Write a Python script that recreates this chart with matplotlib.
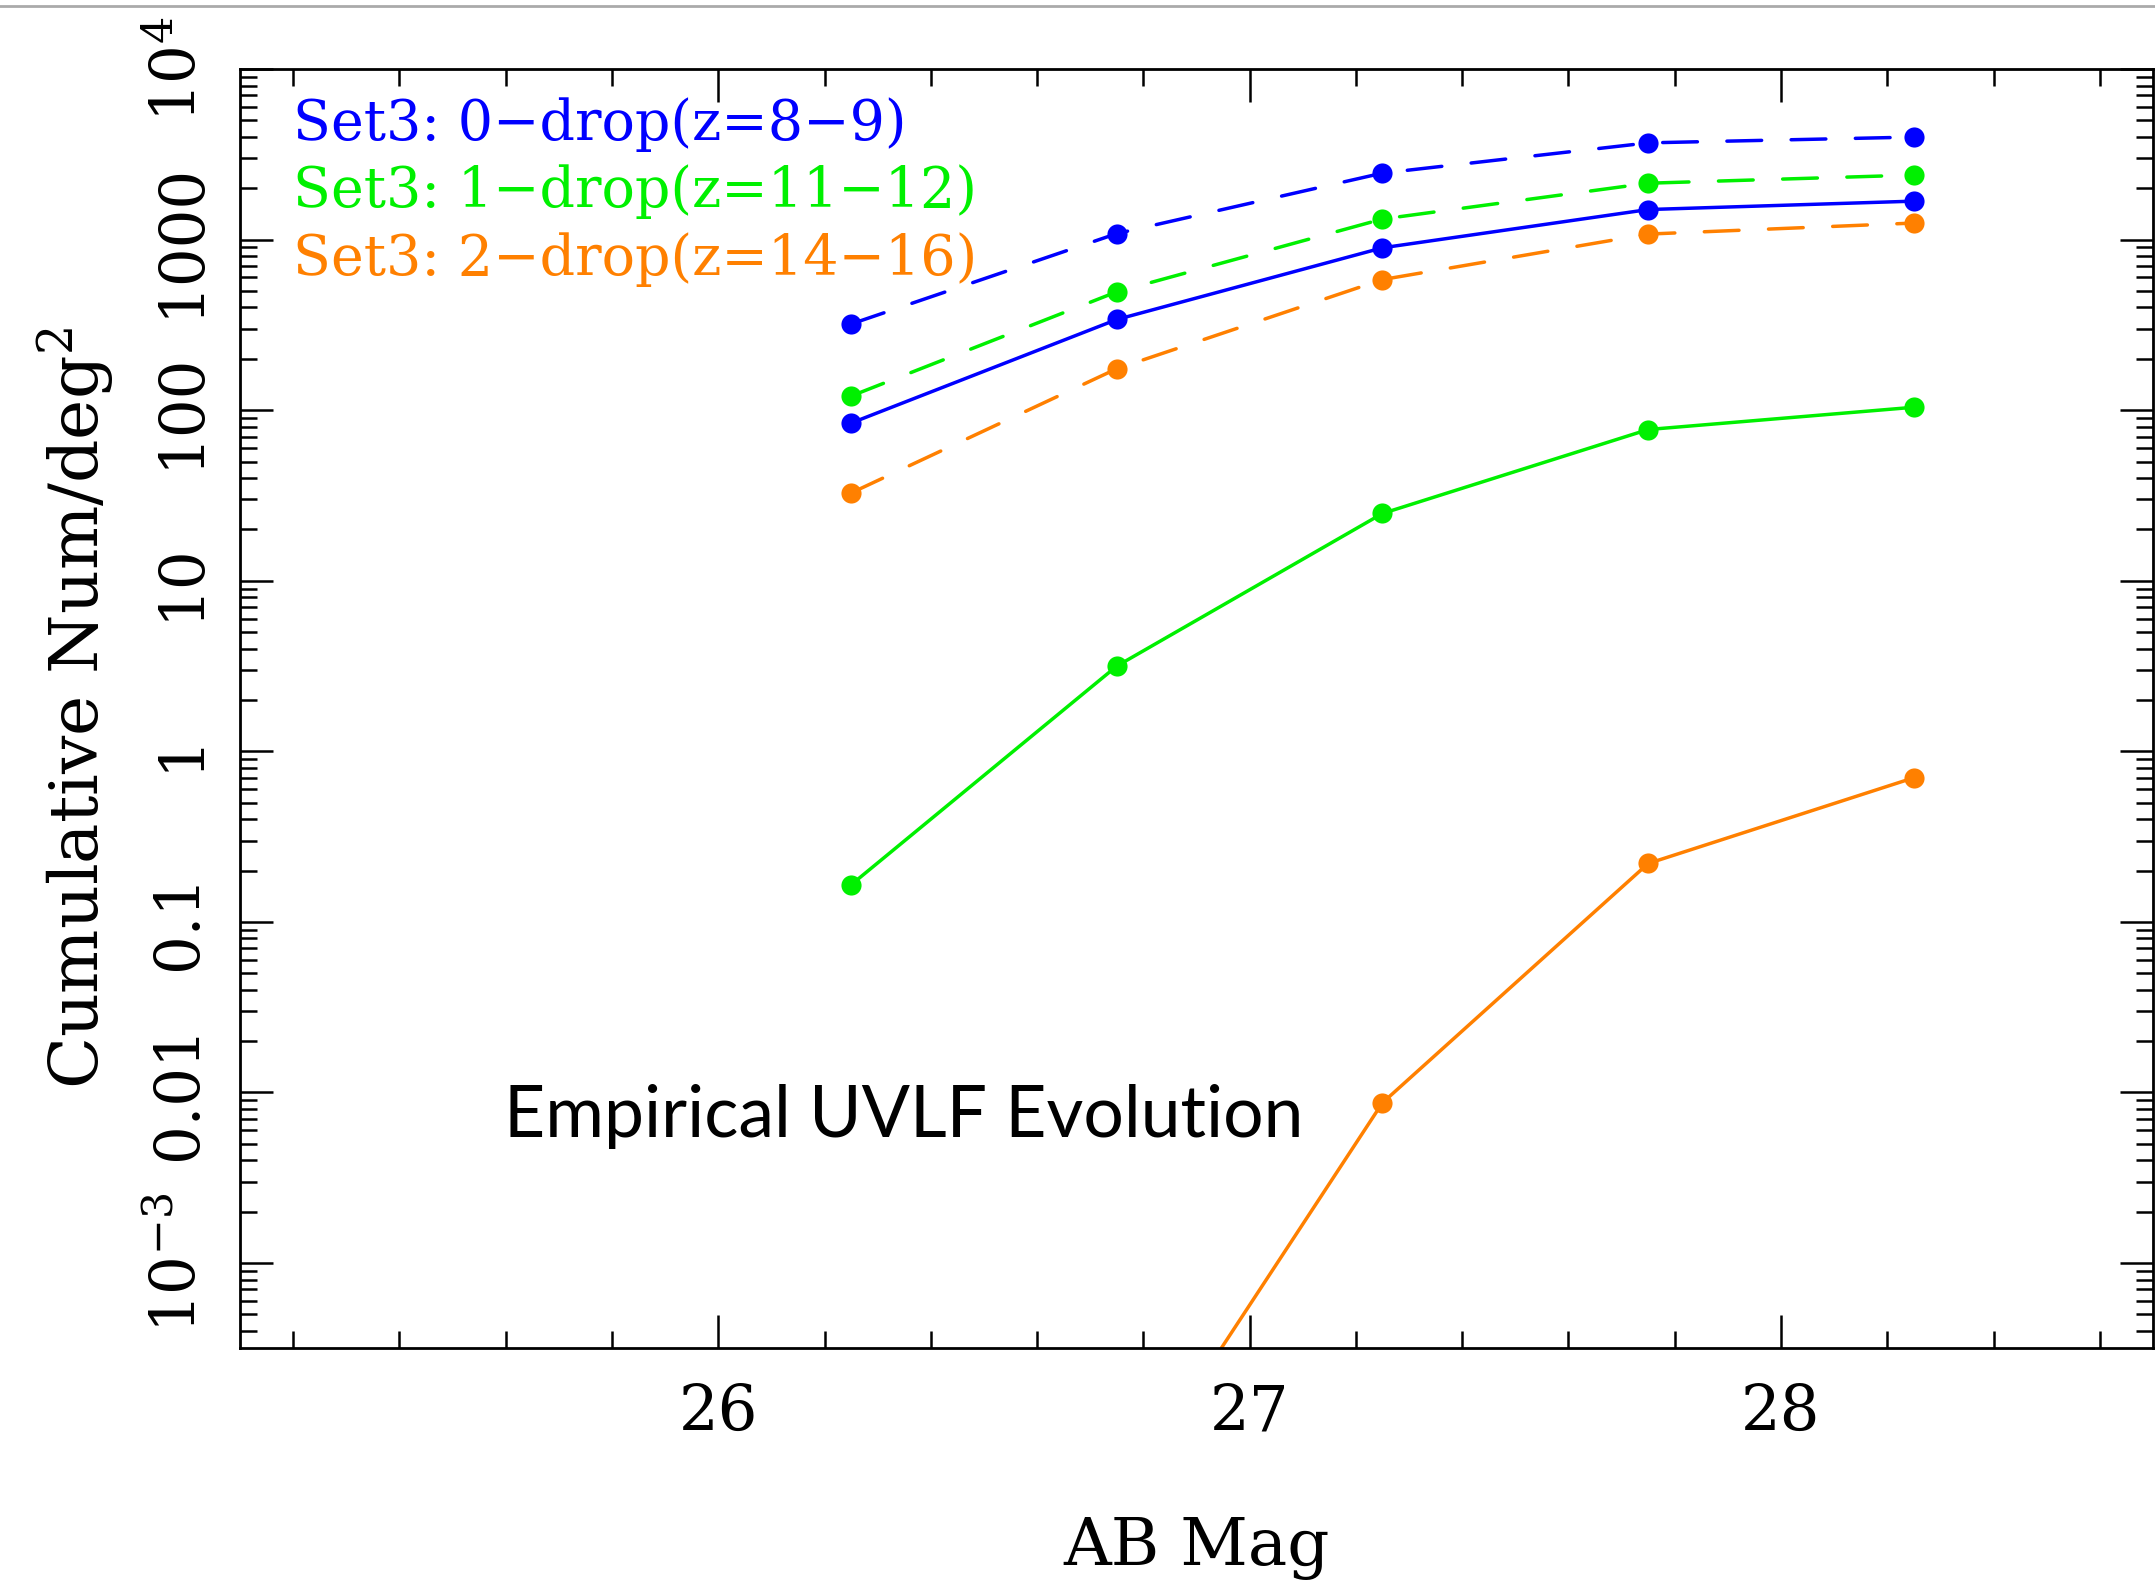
import numpy as np
import matplotlib
matplotlib.use('Agg')
import matplotlib.pyplot as plt
from matplotlib.lines import Line2D
from matplotlib.ticker import FixedLocator, LogLocator, NullFormatter, MultipleLocator

plt.rcParams['font.family'] = ['DejaVu Serif']
plt.rcParams['mathtext.fontset'] = 'dejavuserif'

BLUE = '#0000ff'
GREEN = '#00f000'
ORANGE = '#ff8000'

# AB magnitude bins
mag = [26.25, 26.75, 27.25, 27.75, 28.25]

# cumulative number per deg^2
drop0_dashed = [320, 1084, 2453, 3690, 3990]
drop1_dashed = [121, 494, 1320, 2140, 2390]
drop0_solid = [84, 340, 895, 1500, 1680]
drop2_dashed = [32.7, 175, 583, 1077, 1250]
drop1_solid = [0.165, 3.16, 24.8, 77, 104]
drop2_solid = [np.nan, 3.7e-5, 0.0087, 0.22, 0.70]

legend_labels = ['Set3: 0\u2212drop(z=8\u22129)',
                 'Set3: 1\u2212drop(z=11\u221212)',
                 'Set3: 2\u2212drop(z=14\u221216)']
legend_colors = [BLUE, GREEN, ORANGE]

ytick_vals = [1e-3, 1e-2, 1e-1, 1, 10, 100, 1000, 1e4]
ytick_labels = ['$10^{\u22123}$', '0.01', '0.1', '1', '10', '100', '1000', '$10^{4}$']
xtick_vals = [26, 27, 28]

fig = plt.figure(figsize=(21.55, 15.84), dpi=100, facecolor='white')
ax = fig.add_axes([240 / 2155, 1 - 1348 / 1584, (2153 - 240) / 2155, (1348 - 69) / 1584])

LW = 2.5
MS = 14.5
DASH = (10, 8.5)

series = [
    (drop0_dashed, BLUE, '--'),
    (drop1_dashed, GREEN, '--'),
    (drop0_solid, BLUE, '-'),
    (drop2_dashed, ORANGE, '--'),
    (drop1_solid, GREEN, '-'),
    (drop2_solid, ORANGE, '-'),
]
for vals, col, ls in series:
    line, = ax.plot(mag, vals, color=col, lw=LW, marker='o', ms=MS,
                    markeredgewidth=0, solid_capstyle='round', dash_capstyle='round')
    if ls == '--':
        line.set_dashes(DASH)

ax.set_yscale('log')
ax.set_xlim(25.1, 28.7)
ax.set_ylim(10 ** -3.498, 1e4)

ax.xaxis.set_major_locator(FixedLocator(xtick_vals))
ax.xaxis.set_minor_locator(MultipleLocator(0.2))
ax.set_yticks(ytick_vals, ytick_labels, rotation=90, va='center')
ax.yaxis.set_minor_locator(LogLocator(base=10, subs=np.arange(2, 10)))
ax.yaxis.set_minor_formatter(NullFormatter())

for s in ax.spines.values():
    s.set_linewidth(2.0)

ax.tick_params(which='both', direction='in', top=True, right=True, width=1.8, color='black')
ax.tick_params(which='major', length=24)
ax.tick_params(which='minor', length=12)
ax.tick_params(axis='x', which='major', labelsize=45, pad=25)
ax.tick_params(axis='y', which='major', labelsize=44, pad=22)

ax.set_xlabel('AB Mag', fontsize=47.5, va='top')
ax.xaxis.set_label_coords(0.5, -0.131)
ax.set_ylabel('Cumulative Num/deg$^{2}$', fontsize=49)
ax.yaxis.set_label_coords(-0.0645, 0.5)

leg_y = [0.9445, 0.8921, 0.8389]
for lab, col, y in zip(legend_labels, legend_colors, leg_y):
    ax.text(0.0277, y, lab, color=col, fontsize=40,
            transform=ax.transAxes, ha='left', va='baseline')

ax.text(0.138, 0.165, 'Empirical UVLF Evolution', fontsize=51.5,
        family='Lato', color='black', transform=ax.transAxes,
        ha='left', va='baseline')

# thin gray rule across the top of the image
fig.add_artist(Line2D([0, 1], [1 - 6 / 1584, 1 - 6 / 1584], transform=fig.transFigure,
                      color='#aaaaaa', lw=2.0))

fig.savefig('out.png', dpi=100, facecolor='white')
